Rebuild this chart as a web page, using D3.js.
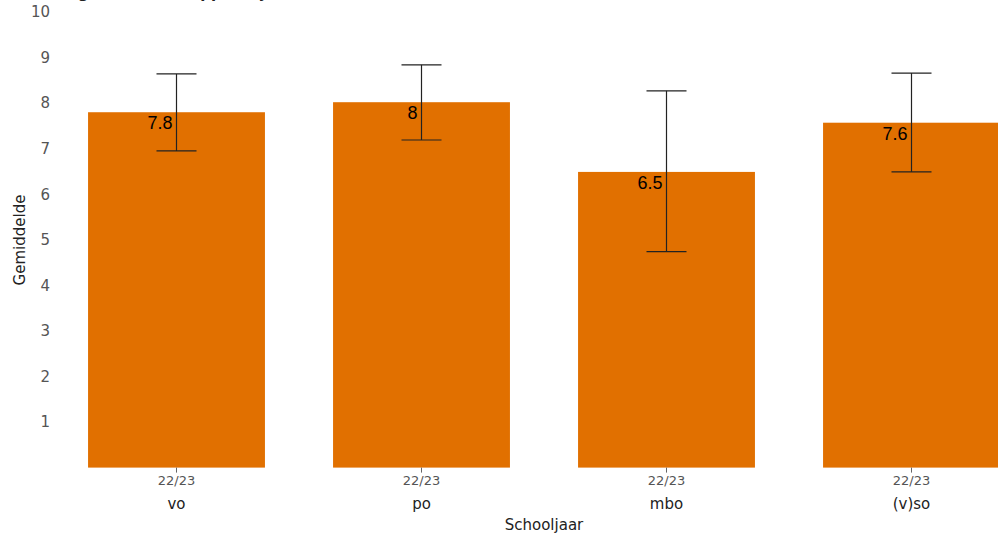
<!DOCTYPE html>
<html><head><meta charset="utf-8">
<script src="https://cdn.jsdelivr.net/npm/d3@7"></script>
<style>body{margin:0;background:#fff;overflow:hidden}</style>
</head><body>
<svg id="c" width="998" height="537"></svg>
<script>
const categories = ["vo", "po", "mbo", "(v)so"];
const periodLabels = ["22/23", "22/23", "22/23", "22/23"];
const means = [7.8, 8.02, 6.49, 7.57];
const lower = [6.95, 7.19, 4.74, 6.49];
const upper = [8.64, 8.84, 8.27, 8.66];
const valueLabels = ["7.8", "8", "6.5", "7.6"];
const yTicks = [1,2,3,4,5,6,7,8,9,10];
const title = "Het gemiddelde rapportcijfer";

const svg = d3.select("#c");
const x = d3.scaleBand().domain(categories).range([54, 1034]).paddingInner(0.278).paddingOuter(0.139);
const y = d3.scaleLinear().domain([0, 10]).range([467.6, 12]);
const data = categories.map((c,i)=>({c, m:means[i], lo:lower[i], hi:upper[i], lab:valueLabels[i], p:periodLabels[i]}));

svg.append("text").attr("x", 43).attr("y", -2).attr("font-family","DejaVu Sans, Verdana, sans-serif")
  .attr("font-size", 15).attr("font-weight","bold").attr("fill","#222").text(title);

// bars
svg.append("g").selectAll("rect").data(data).join("rect")
  .attr("x", d=>x(d.c)).attr("width", x.bandwidth())
  .attr("y", d=>y(d.m)).attr("height", d=>y(0)-y(d.m))
  .attr("fill", "#E17000");

// value labels
svg.append("g").selectAll("text").data(data).join("text")
  .attr("x", d=>x(d.c)+x.bandwidth()/2-4).attr("y", d=>y(d.m)+17)
  .attr("text-anchor","end").attr("font-family","Liberation Sans, Arial, sans-serif")
  .attr("font-size", 18).attr("fill","#000").text(d=>d.lab);

// error bars
const eb = svg.append("g").attr("stroke","#222").attr("stroke-width",1.2).attr("fill","none");
data.forEach(d=>{
  const cx = x(d.c)+x.bandwidth()/2;
  eb.append("line").attr("x1",cx).attr("x2",cx).attr("y1",y(d.hi)).attr("y2",y(d.lo));
  eb.append("line").attr("x1",cx-20).attr("x2",cx+20).attr("y1",y(d.hi)).attr("y2",y(d.hi));
  eb.append("line").attr("x1",cx-20).attr("x2",cx+20).attr("y1",y(d.lo)).attr("y2",y(d.lo));
});

// y axis
const ya = svg.append("g").attr("transform","translate(50,0)")
  .call(d3.axisLeft(y).tickValues(yTicks).tickSize(0).tickPadding(0));
ya.select(".domain").remove();
ya.selectAll("text").attr("font-family","DejaVu Sans, Verdana, sans-serif").attr("font-size",15).attr("fill","#555");

// x axis ticks + period labels
const xa = svg.append("g").attr("transform",`translate(0,${y(0)})`)
  .call(d3.axisBottom(x).tickSize(5).tickPadding(3).tickFormat((d,i)=>periodLabels[i]));
xa.select(".domain").remove();
xa.selectAll("line").attr("stroke","#666");
xa.selectAll("text").attr("font-family","DejaVu Sans, Verdana, sans-serif").attr("font-size",13).attr("fill","#555");

// category labels
svg.append("g").selectAll("text").data(data).join("text")
  .attr("x", d=>x(d.c)+x.bandwidth()/2).attr("y", 509)
  .attr("text-anchor","middle").attr("font-family","DejaVu Sans, Verdana, sans-serif")
  .attr("font-size",15).attr("fill","#222").text(d=>d.c);

// axis titles
svg.append("text").attr("x", 544).attr("y", 530).attr("text-anchor","middle")
  .attr("font-family","DejaVu Sans, Verdana, sans-serif").attr("font-size",15).attr("fill","#222").text("Schooljaar");
svg.append("text").attr("transform","translate(25,240) rotate(-90)").attr("text-anchor","middle")
  .attr("font-family","DejaVu Sans, Verdana, sans-serif").attr("font-size",15).attr("fill","#222").text("Gemiddelde");
</script>
</body></html>
